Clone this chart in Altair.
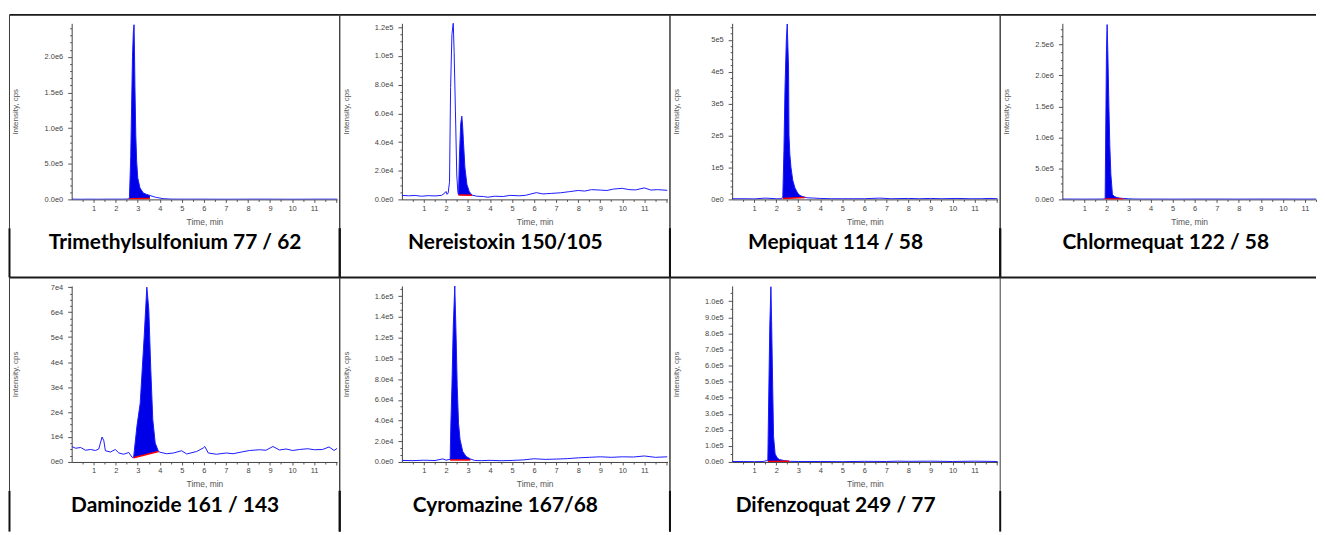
import json
import altair as alt
import pandas as pd

# ---------------- data ----------------
NAMES = ["Trimethylsulfonium 77 / 62", "Nereistoxin 150/105", "Mepiquat 114 / 58",
         "Chlormequat 122 / 58", "Daminozide 161 / 143", "Cyromazine 167/68",
         "Difenzoquat 249 / 77"]

T1_T = [0.0, 0.4, 0.8, 1.2, 1.6, 2.0, 2.3, 2.5, 2.62, 2.65, 2.68, 2.72, 2.76, 2.80, 2.83, 2.85,
        2.87, 2.91, 2.95, 3.00, 3.10, 3.25, 3.40, 3.55, 3.80, 4.15, 4.5, 5.0, 6.0, 7.0, 8.0, 9.0,
        10.0, 11.0, 12.05]
T1_V = [3e3, 2e3, 3e3, 2e3, 3e3, 3e3, 3e3, 4e3, 1e4, 3.0e5, 6.0e5, 1.3e6, 2.0e6, 2.35e6, 2.45e6,
        2.1e6, 1.6e6, 9.0e5, 5.3e5, 3.0e5, 1.6e5, 9.0e4, 7.0e4, 5.5e4, 3.0e4, 1.0e4, 4e3, 3e3,
        3e3, 2e3, 3e3, 3e3, 2e3, 3e3, 3e3]

T2_T = [0.0, 0.3, 0.6, 0.9, 1.2, 1.5, 1.8, 1.95, 2.0, 2.05, 2.1, 2.16, 2.21, 2.27, 2.33, 2.37,
        2.43, 2.49, 2.54, 2.57, 2.61, 2.67, 2.72, 2.76, 2.79, 2.86, 2.95, 3.06, 3.18, 3.4, 3.7,
        3.9, 4.2, 4.6, 4.9, 5.3, 5.6, 6.1, 6.4, 6.8, 7.2, 7.6, 8.0, 8.3, 8.6, 9.0, 9.3, 9.6,
        10.0, 10.3, 10.6, 11.0, 11.3, 11.6, 12.05]
T2_V = [2800, 2500, 2700, 2200, 2600, 2400, 2800, 4500, 5500, 3500, 4500, 1.2e4, 7.8e4, 1.15e5,
        1.23e5, 1.03e5, 6.1e4, 1.7e4, 5000, 3000, 3.0e4, 5.3e4, 5.8e4, 5.0e4, 4.1e4, 2.2e4,
        1.04e4, 5300, 3000, 2200, 2000, 1500, 2200, 2000, 2800, 2500, 2800, 4700, 3800, 4200,
        4600, 5400, 6200, 5800, 6800, 6500, 6200, 7200, 7700, 6800, 6600, 8000, 6500, 6800, 6300]

T3_T = [0.0, 0.5, 1.0, 1.5, 2.0, 2.25, 2.30, 2.35, 2.40, 2.46, 2.50, 2.53, 2.56, 2.58, 2.62,
        2.67, 2.75, 2.85, 2.97, 3.08, 3.20, 3.30, 3.40, 3.7, 4.0, 4.5, 5.0, 5.5, 6.0, 6.7, 7.2,
        8.0, 8.5, 9.0, 9.5, 10.2, 10.8, 11.3, 11.7, 12.05]
T3_V = [2e3, 2e3, 1.5e3, 4e3, 2e3, 2e3, 1e4, 1.5e5, 3.5e5, 5.0e5, 5.5e5, 4.8e5, 4.1e5, 2.0e5,
        1.4e5, 1.0e5, 6.0e4, 3.6e4, 2.0e4, 1.2e4, 9e3, 7e3, 5e3, 4e3, 3e3, 2e3, 2e3, 2e3, 2e3,
        4e3, 2e3, 3e3, 2e3, 3e3, 2e3, 3e3, 2e3, 2e3, 3e3, 2e3]

T4_T = [0.0, 0.5, 1.0, 1.5, 1.8, 1.94, 1.97, 2.00, 2.03, 2.06, 2.11, 2.15, 2.20, 2.27, 2.37,
        2.47, 2.62, 2.77, 2.99, 3.2, 3.6, 4.0, 5.0, 6.0, 7.0, 8.0, 9.0, 10.0, 11.0, 11.5]
T4_V = [5e3, 5e3, 4e3, 5e3, 5e3, 1e4, 1.2e6, 2.4e6, 2.82e6, 2.4e6, 1.5e6, 8.8e5, 4.0e5, 8.0e4,
        4.5e4, 3.0e4, 2.0e4, 1.5e4, 1.0e4, 6e3, 5e3, 5e3, 4e3, 5e3, 5e3, 4e3, 5e3, 5e3, 4e3, 5e3]

T5_T = [0.00, 0.18, 0.41, 0.63, 0.86, 1.08, 1.23, 1.38, 1.46, 1.53, 1.76, 1.98, 2.14, 2.36,
        2.59, 2.74, 2.81, 2.96, 3.11, 3.29, 3.41, 3.50, 3.59, 3.68, 3.79, 3.94, 4.01, 4.31,
        4.62, 4.99, 5.22, 5.67, 5.97, 6.04, 6.20, 6.57, 7.02, 7.32, 7.77, 8.07, 8.52, 8.82,
        9.13, 9.43, 9.73, 10.03, 10.33, 10.71, 11.01, 11.38, 11.68, 11.91, 12.05]
T5_V = [6200, 5500, 5800, 4700, 5000, 4600, 5200, 10000, 8500, 4500, 4000, 5000, 3600, 3100,
        3800, 1900, 1700, 14200, 23500, 50000, 70000, 61000, 37000, 17000, 7600, 4200, 3900,
        3300, 3600, 4500, 3200, 4200, 5600, 6200, 3600, 3100, 3600, 3300, 4100, 4600, 4900,
        4700, 6200, 4800, 5200, 4600, 5000, 5300, 4900, 5000, 6000, 4600, 5500]

T6_T = [0.0, 0.5, 1.0, 1.5, 1.86, 2.0, 2.19, 2.22, 2.27, 2.33, 2.40, 2.46, 2.51, 2.57, 2.64,
        2.76, 2.91, 3.11, 3.3, 3.6, 4.0, 4.5, 5.0, 5.5, 6.0, 6.5, 7.0, 7.5, 8.0, 8.5, 9.0, 9.5,
        10.0, 10.5, 11.0, 11.5, 12.05]
T6_V = [1500, 1300, 1700, 1400, 3000, 1800, 2500, 35000, 73000, 130000, 170000, 120500, 73000,
        37400, 21400, 10200, 5400, 2900, 1500, 1300, 1600, 1200, 1500, 2000, 3100, 2500, 2800,
        3200, 4000, 4500, 5000, 4500, 5000, 4800, 5800, 4500, 5000]

T7_T = [0.0, 0.5, 1.0, 1.4, 1.62, 1.67, 1.71, 1.76, 1.79, 1.84, 1.88, 1.95, 2.05, 2.15, 2.35,
        2.53, 2.6, 3.0, 4.0, 5.0, 6.0, 7.0, 7.5, 8.0, 9.0, 10.0, 11.0, 12.05]
T7_V = [3e3, 3e3, 2e3, 3e3, 1e4, 4.9e5, 8.5e5, 1.09e6, 8.8e5, 4.7e5, 1.6e5, 5.0e4, 2.5e4, 1.5e4,
        9e3, 6e3, 4e3, 3e3, 3e3, 2e3, 4e3, 3e3, 5e3, 4e3, 5e3, 3e3, 5e3, 3e3]

# integration window (start, end) and baseline levels at start / end
FILL_T = [(2.62, 3.55), (2.57, 3.18), (2.30, 3.30), (1.94, 2.77), (2.81, 3.94), (2.19, 3.11),
          (1.62, 2.60)]
BASE_V = [(8e3, 1.2e4), (3000, 2800), (3e3, 6e3), (5e3, 8e3), (1700, 4200), (1900, 1900),
          (3e3, 4e3)]

X_MAX = [12.05, 12.05, 12.05, 11.5, 12.05, 12.05, 12.05]
Y_MAX = [2.47e6, 1.228e5, 5.52e5, 2.84e6, 7.05e4, 1.7e5, 1.095e6]

Y_TICKS = [
    [0, 500000, 1000000, 1500000, 2000000],
    [0, 20000, 40000, 60000, 80000, 100000, 120000],
    [0, 100000, 200000, 300000, 400000, 500000],
    [0, 500000, 1000000, 1500000, 2000000, 2500000],
    [0, 10000, 20000, 30000, 40000, 50000, 60000, 70000],
    [0, 20000, 40000, 60000, 80000, 100000, 120000, 140000, 160000],
    [0, 100000, 200000, 300000, 400000, 500000, 600000, 700000, 800000, 900000, 1000000],
]
Y_LABELS = [
    ["0.0e0", "5.0e5", "1.0e6", "1.5e6", "2.0e6"],
    ["0.0e0", "2.0e4", "4.0e4", "6.0e4", "8.0e4", "1.0e5", "1.2e5"],
    ["0e0", "1e5", "2e5", "3e5", "4e5", "5e5"],
    ["0.0e0", "5.0e5", "1.0e6", "1.5e6", "2.0e6", "2.5e6"],
    ["0e0", "1e4", "2e4", "3e4", "4e4", "5e4", "6e4", "7e4"],
    ["0.0e0", "2.0e4", "4.0e4", "6.0e4", "8.0e4", "1.0e5", "1.2e5", "1.4e5", "1.6e5"],
    ["0.0e0", "1.0e5", "2.0e5", "3.0e5", "4.0e5", "5.0e5", "6.0e5", "7.0e5", "8.0e5",
     "9.0e5", "1.0e6"],
]
X_LABELS = [1, 2, 3, 4, 5, 6, 7, 8, 9, 10, 11]

TRACES = [(T1_T, T1_V), (T2_T, T2_V), (T3_T, T3_V), (T4_T, T4_V), (T5_T, T5_V),
          (T6_T, T6_V), (T7_T, T7_V)]

# ---------------- layout / style ----------------
W, W4, H = 267, 255, 177
COL_GAP, ROW_GAP = 65, 87
PITCH_X, PITCH_Y = W + COL_GAP, H + ROW_GAP
CL, CT = -62.5, -8.5          # cell left / top relative to plot origin
CR = CL + PITCH_X
IB = 206                       # bottom of the chromatogram picture
LBL_X, LBL_Y = 104, 221
BOTTOMS = [CT + PITCH_Y, 247]

LINE_BLUE = "#1a1aff"
FILL_BLUE = "#0000e8"
SMALL_FONT = "Liberation Sans"


def one():
    return alt.Data(values=[{}])


def hrule(x1, x2, y, w=2, c="#1a1a1a"):
    return alt.Chart(one()).mark_rule(stroke=c, strokeWidth=w).encode(
        x=alt.value(x1), x2=alt.value(x2), y=alt.value(y))


def vrule(x, y1, y2, w=1, c="#333333"):
    return alt.Chart(one()).mark_rule(stroke=c, strokeWidth=w).encode(
        x=alt.value(x), y=alt.value(y1), y2=alt.value(y2))


def panel(i):
    col, row = i % 4, i // 4
    ts, vs = TRACES[i]
    df = pd.DataFrame({"t": ts, "v": vs})
    t0, t1 = FILL_T[i]
    b0, b1 = BASE_V[i]
    fill = df[(df.t >= t0) & (df.t <= t1)].copy()
    fill["b"] = b0 + (b1 - b0) * (fill.t - t0) / (t1 - t0)
    base = pd.DataFrame({"t": [t0, t1], "v": [b0, b1]})
    w = W4 if col == 3 else W

    xs = alt.Scale(domain=[0, X_MAX[i]], nice=False, zero=False)
    ys = alt.Scale(domain=[0, Y_MAX[i]], nice=False)

    # x axis: ticks every half minute, labels at whole minutes
    xvals = [k * 0.5 for k in range(1, int(X_MAX[i] * 2) + 1)]
    x_expr = ("datum.value % 1 === 0 && datum.value <= " + str(X_LABELS[-1])
              + " ? format(datum.value, 'd') : ''")
    xaxis = alt.Axis(
        values=xvals,
        labelExpr=x_expr,
        tickSize={"condition": {"test": "datum.value % 1 === 0", "value": 3}, "value": 2},
        title="Time, min", titleY=22, titleBaseline="middle",
        grid=False, labelFont=SMALL_FONT, labelFontSize=7.5, labelColor="#444444",
        labelPadding=2, titleFont=SMALL_FONT, titleFontSize=8.5, titleFontWeight="normal",
        titleColor="#555555", domainColor="#444444", tickColor="#555555", labelFlush=False,
    )

    major = Y_TICKS[i]
    step = major[1] - major[0]
    n = max(1, round(step / Y_MAX[i] * H / 7))
    minor = []
    k = 1
    while k * step / n <= Y_MAX[i]:
        if k % n:
            minor.append(int(round(k * step / n)))
        k += 1
    yvals = sorted(major + minor)
    mj = json.dumps(major)
    lb = json.dumps(Y_LABELS[i])
    yaxis = alt.Axis(
        values=yvals,
        labelExpr=f"indexof({mj}, datum.value) >= 0 ? {lb}[indexof({mj}, datum.value)] : ''",
        tickSize={"condition": {"test": f"indexof({mj}, datum.value) >= 0", "value": 4},
                  "value": 2},
        title="Intensity, cps", titleX=-56, titleY=H / 2, titleAngle=270,
        titleAlign="center", titleBaseline="middle",
        grid=False, labelFont=SMALL_FONT, labelFontSize=7.5, labelColor="#444444",
        labelPadding=5, titleFont=SMALL_FONT, titleFontSize=8, titleFontWeight="normal",
        titleColor="#555555", domainColor="#444444", tickColor="#555555", labelFlush=False,
    )

    X = alt.X("t:Q", scale=xs, axis=xaxis, title="Time, min")
    Y = alt.Y("v:Q", scale=ys, axis=yaxis, title="Intensity, cps")

    area = alt.Chart(fill).mark_area(color=FILL_BLUE, opacity=1, clip=True).encode(
        x=X, y=Y, y2="b:Q")
    line = alt.Chart(df).mark_line(color=LINE_BLUE, strokeWidth=1, clip=True).encode(
        x=X, y=Y)
    red = alt.Chart(base).mark_line(color="#ff0000", strokeWidth=1.5, clip=True).encode(
        x=X, y=Y)

    bottom = BOTTOMS[row]
    if col == 3:
        top_end = W4
    elif i == 6:
        top_end = PITCH_X + W4      # divider continues over the empty last cell
    else:
        top_end = CR
    decos = [
        hrule(CL, top_end, CT),
        vrule(CL, CT, IB, 1, "#3a3a3a"),
        vrule(CL, IB, bottom, 2, "#111111"),
    ]
    if col < 3:
        decos += [vrule(CR, CT, IB, 1, "#3a3a3a"), vrule(CR, IB, bottom, 2, "#111111")]

    label = alt.Chart(one()).mark_text(
        font="Lato", fontSize=21, fontWeight="bold", color="#000000",
        align="center", baseline="middle").encode(
        x=alt.value(LBL_X), y=alt.value(LBL_Y), text=alt.value(NAMES[i]))

    return alt.layer(area, line, red, *decos, label).properties(width=w, height=H)


chart = alt.concat(
    *[panel(i) for i in range(len(NAMES))],
    columns=4,
    spacing={"row": ROW_GAP, "column": COL_GAP},
    bounds="flush",
).properties(
    padding={"left": 0, "top": 4, "right": 0, "bottom": 0},
    background="white",
).configure_view(stroke=None)

chart.save("out.html", embed_options={"renderer": "svg", "actions": False})
